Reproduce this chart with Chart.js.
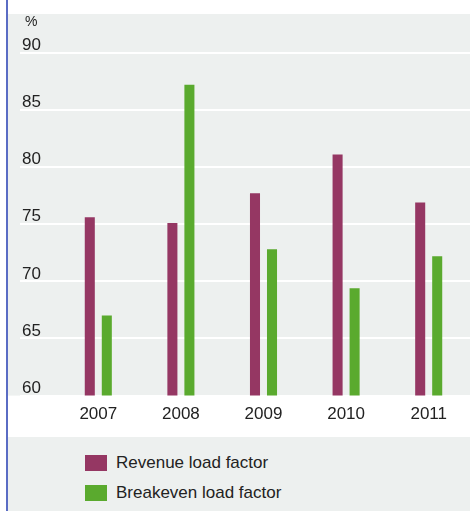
<!DOCTYPE html>
<html>
<head>
<meta charset="utf-8">
<script src="https://cdn.jsdelivr.net/npm/chart.js@4/dist/chart.umd.min.js"></script>
<style>
  html, body { margin: 0; padding: 0; background: #ffffff; }
  body { width: 470px; height: 511px; position: relative; overflow: hidden;
         font-family: "Liberation Sans", Arial, sans-serif; color: #222; }
  .rule { position: absolute; left: 6px; top: 0; width: 1.5px; height: 511px; background: #5a6cc4; }
  .chart-wrap { position: absolute; left: 0; top: 0; width: 470px; height: 437px; }
  .legend { position: absolute; left: 8px; top: 437px; width: 462px; height: 74px; background: #edf0ef; }
  .legend-item { position: absolute; left: 77px; height: 16px; display: flex; align-items: center; font-size: 17px; }
  .legend-box { width: 22px; height: 16px; margin-right: 9px; }
</style>
</head>
<body>
<div class="chart-wrap"><canvas id="chart" width="470" height="437"></canvas></div>
<div class="rule"></div>
<div class="legend" id="legend"></div>
<script>
const years = [`2007`, `2008`, `2009`, `2010`, `2011`];
const revenueLoadFactor = [75.6, 75.1, 77.7, 81.1, 76.9];
const breakevenLoadFactor = [67.0, 87.2, 72.8, 69.4, 72.2];
const seriesNames = [`Revenue load factor`, `Breakeven load factor`];
const seriesColors = [`#953763`, `#5aaa2e`];

const PANEL_COLOR = `#edf0ef`;
const PANEL_LEFT = 8;
const TEXT_COLOR = `#222222`;
const FONT_FAMILY = `"Liberation Sans", Arial, sans-serif`;

// grey plot panel behind the bars plus the unit label in its corner
const panelPlugin = {
  id: `panel`,
  beforeDraw(chart) {
    const {ctx, chartArea, width} = chart;
    ctx.save();
    ctx.fillStyle = PANEL_COLOR;
    ctx.fillRect(PANEL_LEFT, chartArea.top, width - PANEL_LEFT, chartArea.bottom - chartArea.top);
    ctx.restore();
  },
  afterDraw(chart) {
    const {ctx, chartArea} = chart;
    ctx.save();
    ctx.fillStyle = TEXT_COLOR;
    ctx.font = `14px ${FONT_FAMILY}`;
    ctx.textAlign = `left`;
    ctx.textBaseline = `alphabetic`;
    ctx.fillText(`%`, 25, chartArea.top + 12);
    ctx.restore();
  }
};

const chart = new Chart(document.getElementById(`chart`), {
  type: `bar`,
  plugins: [panelPlugin],
  data: {
    labels: years,
    datasets: [
      {label: seriesNames[0], data: revenueLoadFactor, backgroundColor: seriesColors[0]},
      {label: seriesNames[1], data: breakevenLoadFactor, backgroundColor: seriesColors[1]}
    ]
  },
  options: {
    responsive: false,
    animation: false,
    events: [],
    layout: {padding: {top: 14, left: 22, right: 0, bottom: 3}},
    datasets: {
      bar: {categoryPercentage: 0.412, barPercentage: 0.59}
    },
    plugins: {
      legend: {display: false},
      tooltip: {enabled: false}
    },
    scales: {
      x: {
        grid: {display: false, drawTicks: false},
        border: {display: false},
        ticks: {
          color: TEXT_COLOR,
          padding: 9,
          font: {family: FONT_FAMILY, size: 17}
        }
      },
      y: {
        min: 60,
        max: 93.4,
        afterBuildTicks(scale) {
          scale.ticks = scale.ticks.filter((t) => t.value % 5 === 0);
        },
        afterFit(scale) {
          // labels sit above their lines, inside the panel: no extra room needed
          scale.width = 35;
          scale.paddingTop = 0;
          scale.paddingBottom = 0;
        },
        grid: {
          color: `#ffffff`,
          lineWidth: 2,
          drawTicks: true,
          tickLength: 37,
          tickColor: `#ffffff`,
          tickWidth: 2
        },
        border: {display: false},
        ticks: {
          stepSize: 5,
          align: `end`,
          crossAlign: `far`,
          padding: 0,
          labelOffset: 1,
          color: TEXT_COLOR,
          font: {family: FONT_FAMILY, size: 17}
        }
      }
    }
  }
});

// legend rows built from the chart's datasets
const legendEl = document.getElementById(`legend`);
chart.data.datasets.forEach((ds, i) => {
  const item = document.createElement(`div`);
  item.className = `legend-item`;
  item.style.top = `${18 + i * 30}px`;
  item.innerHTML = `<span class="legend-box" style="background:${ds.backgroundColor}"></span><span>${ds.label}</span>`;
  legendEl.appendChild(item);
});
</script>
</body>
</html>
